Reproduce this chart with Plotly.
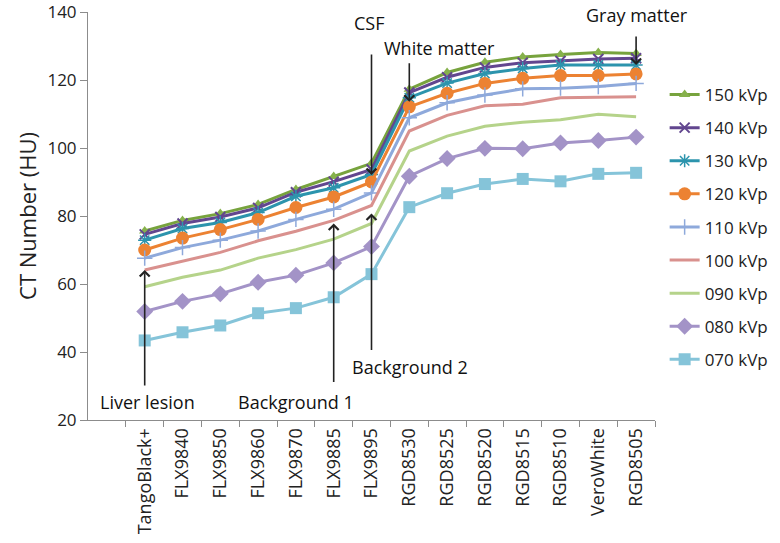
import plotly.graph_objects as go

cats = ["TangoBlack+", "FLX9840", "FLX9850", "FLX9860", "FLX9870", "FLX9885", "FLX9895",
        "RGD8530", "RGD8525", "RGD8520", "RGD8515", "RGD8510", "VeroWhite", "RGD8505"]

kv150 = [75.6, 78.7, 80.7, 83.4, 87.8, 91.6, 95.5, 117.3, 122.2, 125.2, 126.8, 127.5, 128.1, 127.8]
kv140 = [74.6, 77.8, 79.7, 82.4, 87.0, 90.1, 93.7, 116.3, 120.8, 123.7, 125.1, 125.6, 126.2, 126.4]
kv130 = [72.9, 76.3, 78.1, 81.0, 85.8, 88.3, 92.2, 114.8, 119.1, 121.9, 123.4, 124.4, 124.4, 124.4]
kv120 = [70.0, 73.5, 76.0, 79.0, 82.5, 85.6, 90.0, 112.1, 116.1, 119.0, 120.5, 121.3, 121.3, 121.8]
kv110 = [67.6, 70.7, 72.9, 75.6, 79.0, 82.0, 86.8, 108.9, 113.3, 115.6, 117.4, 117.6, 118.1, 119.0]
kv100 = [64.1, 66.8, 69.3, 72.7, 75.5, 78.7, 83.1, 105.0, 109.6, 112.4, 112.9, 114.8, 114.9, 115.1]
kv090 = [59.2, 62.0, 64.1, 67.6, 70.1, 73.2, 77.8, 99.1, 103.5, 106.4, 107.6, 108.3, 109.9, 109.2]
kv080 = [51.9, 54.9, 57.1, 60.5, 62.6, 66.2, 71.0, 91.7, 96.9, 99.9, 99.8, 101.5, 102.2, 103.2]
kv070 = [43.4, 45.8, 47.8, 51.4, 52.9, 56.1, 62.9, 82.6, 86.7, 89.4, 90.9, 90.2, 92.4, 92.7]

series_names = ["150 kVp", "140 kVp", "130 kVp", "120 kVp", "110 kVp",
                "100 kVp", "090 kVp", "080 kVp", "070 kVp"]
series_vals = [kv150, kv140, kv130, kv120, kv110, kv100, kv090, kv080, kv070]

FONT = "Open Sans"
W, H = 780, 543
ML, MR, MT, MB = 88, 125, 12, 123
PW, PH = W - ML - MR, H - MT - MB

styles = [
    dict(color="#77A33D", marker=dict(symbol="triangle-up", size=10, color="#86B14B")),
    dict(color="#62468F", marker=dict(symbol="x-thin-open", size=10,
                                      line=dict(width=2, color="#7E63A8"))),
    dict(color="#2C94AD", marker=dict(symbol="asterisk-open", size=11,
                                      line=dict(width=1.5, color="#5BB5CE"))),
    dict(color="#EC8232", marker=dict(symbol="circle", size=13, color="#EC8232")),
    dict(color="#8EA9DB", marker=dict(symbol="cross-thin-open", size=11,
                                      line=dict(width=1.5, color="#8EA9DB"))),
    dict(color="#D9918E", marker=None),
    dict(color="#B5D38A", marker=None),
    dict(color="#A393C7", marker=dict(symbol="diamond", size=13, color="#A393C7")),
    dict(color="#85C4D9", marker=dict(symbol="square", size=12, color="#85C4D9")),
]

fig = go.Figure()
for i, (name, vals, st) in enumerate(zip(series_names, series_vals, styles)):
    kw = dict(x=cats, y=vals, name=name, legendgroup=name,
              line=dict(color=st["color"], width=3))
    if st["marker"] is None:
        kw["mode"] = "lines"
    else:
        kw["mode"] = "lines+markers"
        kw["marker"] = st["marker"]
    fig.add_trace(go.Scatter(**kw))


def px(xp):
    return (xp - ML) / PW


def py(yp):
    return (MT + PH - yp) / PH


ann_font = dict(family=FONT, size=18, color="#111")
texts = [
    ("Liver lesion", 147, 402),
    ("Background 1", 296, 402),
    ("Background 2", 410, 367),
    ("CSF", 369, 23),
    ("White matter", 439, 48),
    ("Gray matter", 637, 15),
]
annotations = []
for t, xp, yp in texts:
    annotations.append(dict(text=t, x=px(xp), y=py(yp), xref="paper", yref="paper",
                            showarrow=False, font=ann_font, xanchor="center",
                            yanchor="middle"))

arrows = [
    (cats[0], kv100[0], 117, 0),
    (cats[5], kv100[5], 163, 3),
    (cats[6], kv100[6], 146, 8),
    (cats[6], kv120[6], -129, 7),
    (cats[7], kv120[7], -45, 5),
    (cats[13], kv130[13], -30, 0),
]
for xc, yv, ay, so in arrows:
    annotations.append(dict(x=xc, y=yv, xref="x", yref="y", text="", showarrow=True,
                            ax=0, ay=ay, arrowhead=4, arrowsize=1.2, arrowwidth=1.6,
                            arrowcolor="#222", standoff=so))

fig.update_layout(
    width=W, height=H,
    margin=dict(l=ML, r=MR, t=MT, b=MB, autoexpand=False),
    paper_bgcolor="white", plot_bgcolor="white",
    font=dict(family=FONT, color="#222"),
    showlegend=True,
    legend=dict(x=1.017, y=py(77), xanchor="left", yanchor="top",
                font=dict(family=FONT, size=17, color="#222"),
                tracegroupgap=8, bgcolor="rgba(0,0,0,0)"),
    annotations=annotations,
    xaxis=dict(type="category", categoryorder="array", categoryarray=cats,
               range=[-1.5, len(cats) - 0.5], tickson="boundaries",
               ticks="outside", ticklen=6, tickcolor="#8c8c8c",
               showline=True, linecolor="#8c8c8c", linewidth=1,
               tickangle=-90, tickfont=dict(family=FONT, size=18, color="#222"),
               showgrid=False, zeroline=False, fixedrange=True, automargin=False),
    yaxis=dict(range=[20, 140], dtick=20, ticks="outside", ticklen=7,
               tickcolor="#8c8c8c", showline=True, linecolor="#8c8c8c",
               linewidth=1, tickfont=dict(family=FONT, size=17, color="#222"),
               ticklabeloverflow="allow", automargin=False,
               showgrid=False, zeroline=False, fixedrange=True,
               title=dict(text="CT Number (HU)", font=dict(family=FONT, size=22,
                                                            color="#222"),
                          standoff=4)),
)

fig.write_html("out.html",
               config={"displayModeBar": False},
               post_script="document.body.style.margin='0px';"
                           "document.body.style.padding='0px';"
                           "document.body.style.overflow='hidden';")
